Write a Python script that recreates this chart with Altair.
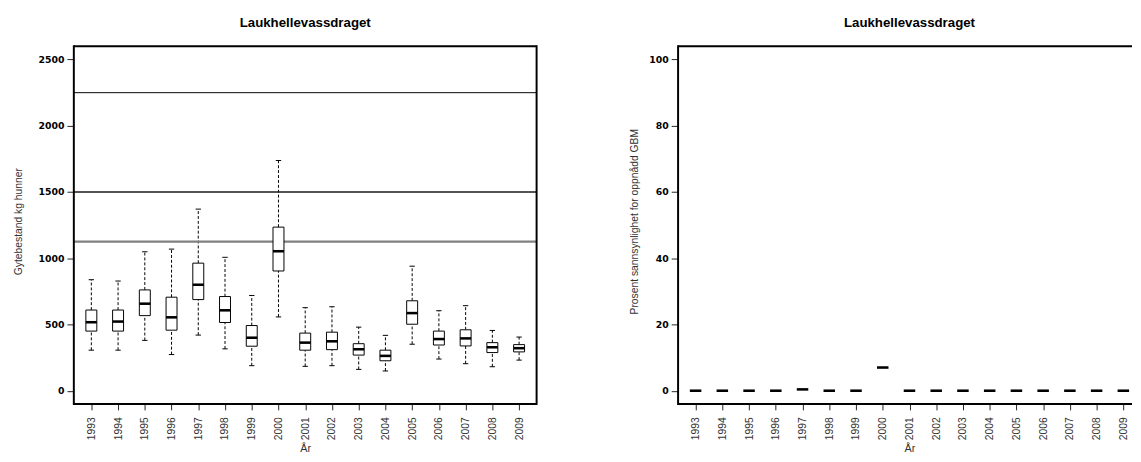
import altair as alt
import pandas as pd

# ---- data ----
years = list(range(1993, 2010))
whisker_low = [306, 306, 380, 273, 420, 316, 189, 557, 184, 189, 161, 149, 351, 239, 204, 181, 231]
box_q1 = [450, 450, 567, 457, 688, 515, 336, 904, 306, 310, 269, 226, 502, 345, 338, 288, 293]
box_median = [517, 522, 657, 554, 800, 607, 400, 1053, 363, 373, 313, 263, 586, 390, 395, 328, 321]
box_q3 = [609, 609, 761, 706, 963, 711, 492, 1235, 435, 442, 355, 306, 679, 450, 460, 363, 348]
whisker_high = [838, 828, 1049, 1069, 1371, 1007, 719, 1738, 627, 634, 480, 418, 940, 604, 642, 455, 405]

ref_levels = [2250, 1500, 1125]
ref_colors = ["#000000", "#1a1a1a", "#808080"]
ref_widths = [1.0, 1.6, 2.2]

prob_gbm = [0, 0, 0, 0, 0.4, 0, 0, 7.0, 0, 0, 0, 0, 0, 0, 0, 0, 0]

title_text = "Laukhellevassdraget"
y_title_left = "Gytebestand kg hunner"
y_title_right = "Prosent sannsynlighet for oppnådd GBM"
x_title = "År"

left_ticks = [0, 500, 1000, 1500, 2000, 2500]
right_ticks = [0, 20, 40, 60, 80, 100]

# ---- layout constants ----
W = 471
W2 = 462
H = 364
PX_PER_YEAR = 27.21
X0 = 1993 - 0.655
HALF_BOX = 0.205
HALF_STAPLE = 0.1

df = pd.DataFrame({
    "year": years, "lo": whisker_low, "q1": box_q1, "med": box_median,
    "q3": box_q3, "hi": whisker_high,
})
df_ref = pd.DataFrame({"level": ref_levels, "color": ref_colors, "w": ref_widths})
df_prob = pd.DataFrame({"year": years, "p": prob_gbm})
one = pd.DataFrame({"a": [0]})

LABEL_FONT = "Liberation Sans"


def x_axis(title_x=None):
    kw = dict(
        values=years, format="d", labelAngle=-90, labelFont=LABEL_FONT,
        labelFontSize=10.5, labelColor="#333333", tickSize=6, tickColor="#222222",
        labelPadding=7, labelOverlap=False, domain=False, grid=False, title=x_title,
        titleFont=LABEL_FONT, titleFontSize=11, titleFontWeight="normal",
        titleColor="#333333", titlePadding=3,
    )
    if title_x is not None:
        kw["titleX"] = title_x
    return alt.Axis(**kw)


def y_axis(values, title, title_x):
    return alt.Axis(
        values=values, format="d", labelFont="DejaVu Sans", labelFontWeight="bold",
        labelFontSize=9.5, labelColor="#000000", tickSize=7, tickColor="#222222",
        labelPadding=3, labelOverlap=False, domain=False, grid=False, title=title,
        titleFont=LABEL_FONT, titleFontSize=10.5, titleFontWeight="normal",
        titleColor="#333333", titleX=title_x, titleY=178, titleBaseline="middle",
        titleAngle=270,
    )


def frame(width, right=True):
    base = alt.Chart(one)
    style = dict(color="black", strokeWidth=2)
    parts = [
        base.mark_rule(**style).encode(x=alt.value(0), x2=alt.value(width), y=alt.value(0)),
        base.mark_rule(**style).encode(x=alt.value(0), x2=alt.value(width), y=alt.value(H)),
        base.mark_rule(**style).encode(x=alt.value(0), y=alt.value(-1), y2=alt.value(H + 1)),
    ]
    if right:
        parts.append(
            base.mark_rule(**style).encode(x=alt.value(width), y=alt.value(-1), y2=alt.value(H + 1))
        )
    return parts


# ---- left panel ----
xs_left = alt.Scale(domain=[X0, X0 + W / PX_PER_YEAR], nice=False, zero=False)
ys_left = alt.Scale(domain=[-100, 2600], nice=False, zero=False)
XAX_L = x_axis()
YAX_L = y_axis(left_ticks, y_title_left, -56)


def xl_enc(field):
    return alt.X(field, scale=xs_left, axis=XAX_L)


def yl_enc(field):
    return alt.Y(field, scale=ys_left, axis=YAX_L)


base = alt.Chart(df).transform_calculate(
    xl=f"datum.year - {HALF_BOX}", xr=f"datum.year + {HALF_BOX}",
    sl=f"datum.year - {HALF_STAPLE}", sr=f"datum.year + {HALF_STAPLE}",
)

refs = alt.Chart(df_ref).mark_rule().encode(
    y=yl_enc("level:Q"),
    color=alt.Color("color:N", scale=None),
    strokeWidth=alt.StrokeWidth("w:Q", scale=None),
)

whisk_up = base.mark_rule(color="black", strokeWidth=1, strokeDash=[3, 2]).encode(
    x=xl_enc("year:Q"), y=yl_enc("q3:Q"), y2="hi:Q",
)
whisk_dn = base.mark_rule(color="black", strokeWidth=1, strokeDash=[3, 2]).encode(
    x=xl_enc("year:Q"), y=yl_enc("lo:Q"), y2="q1:Q",
)
staple_hi = base.mark_rule(color="black", strokeWidth=1).encode(
    x=xl_enc("sl:Q"), x2="sr:Q", y=yl_enc("hi:Q"),
)
staple_lo = base.mark_rule(color="black", strokeWidth=1).encode(
    x=xl_enc("sl:Q"), x2="sr:Q", y=yl_enc("lo:Q"),
)
boxes = base.mark_rect(fill="white", stroke="black", strokeWidth=1).encode(
    x=xl_enc("xl:Q"), x2="xr:Q", y=yl_enc("q1:Q"), y2="q3:Q",
)
medians = base.mark_rule(color="black", strokeWidth=2.6).encode(
    x=xl_enc("xl:Q"), x2="xr:Q", y=yl_enc("med:Q"),
)

left = alt.layer(
    whisk_up, whisk_dn, staple_hi, staple_lo, refs, boxes, medians, *frame(W)
).properties(
    width=W, height=H,
    title=alt.TitleParams(title_text, font=LABEL_FONT, fontSize=13.5, fontWeight="bold",
                          color="black", offset=4, baseline="alphabetic", anchor="middle"),
)

# ---- right panel ----
xs_right = alt.Scale(domain=[X0, X0 + W2 / PX_PER_YEAR], nice=False, zero=False)
ys_right = alt.Scale(domain=[-4, 104], nice=False, zero=False)
XAX_R = x_axis(title_x=W / 2)
YAX_R = y_axis(right_ticks, y_title_right, -44)

pbase = alt.Chart(df_prob).transform_calculate(
    xl=f"datum.year - {HALF_BOX + 0.01}", xr=f"datum.year + {HALF_BOX + 0.01}",
)
prob_axis = pbase.mark_point(opacity=0).encode(
    x=alt.X("year:Q", scale=xs_right, axis=XAX_R),
    y=alt.Y("p:Q", scale=ys_right, axis=YAX_R),
)
prob_marks = pbase.mark_rule(color="black", strokeWidth=2.6).encode(
    x=alt.X("xl:Q", scale=xs_right, axis=XAX_R),
    x2="xr:Q",
    y=alt.Y("p:Q", scale=ys_right, axis=YAX_R),
)

right = alt.layer(prob_axis, prob_marks, *frame(W2, right=False)).properties(
    width=W2, height=H,
    title=alt.TitleParams(title_text, font=LABEL_FONT, fontSize=13.5, fontWeight="bold",
                          color="black", offset=4, baseline="alphabetic", anchor="middle",
                          dx=(W - W2) / 2),
)

chart = alt.hconcat(left, right, spacing=93).properties(
    padding={"left": 6, "top": 4, "right": 0, "bottom": 0},
    background="white",
).configure_view(stroke=None)

chart.save("out.html", embed_options={"renderer": "svg", "actions": False})
